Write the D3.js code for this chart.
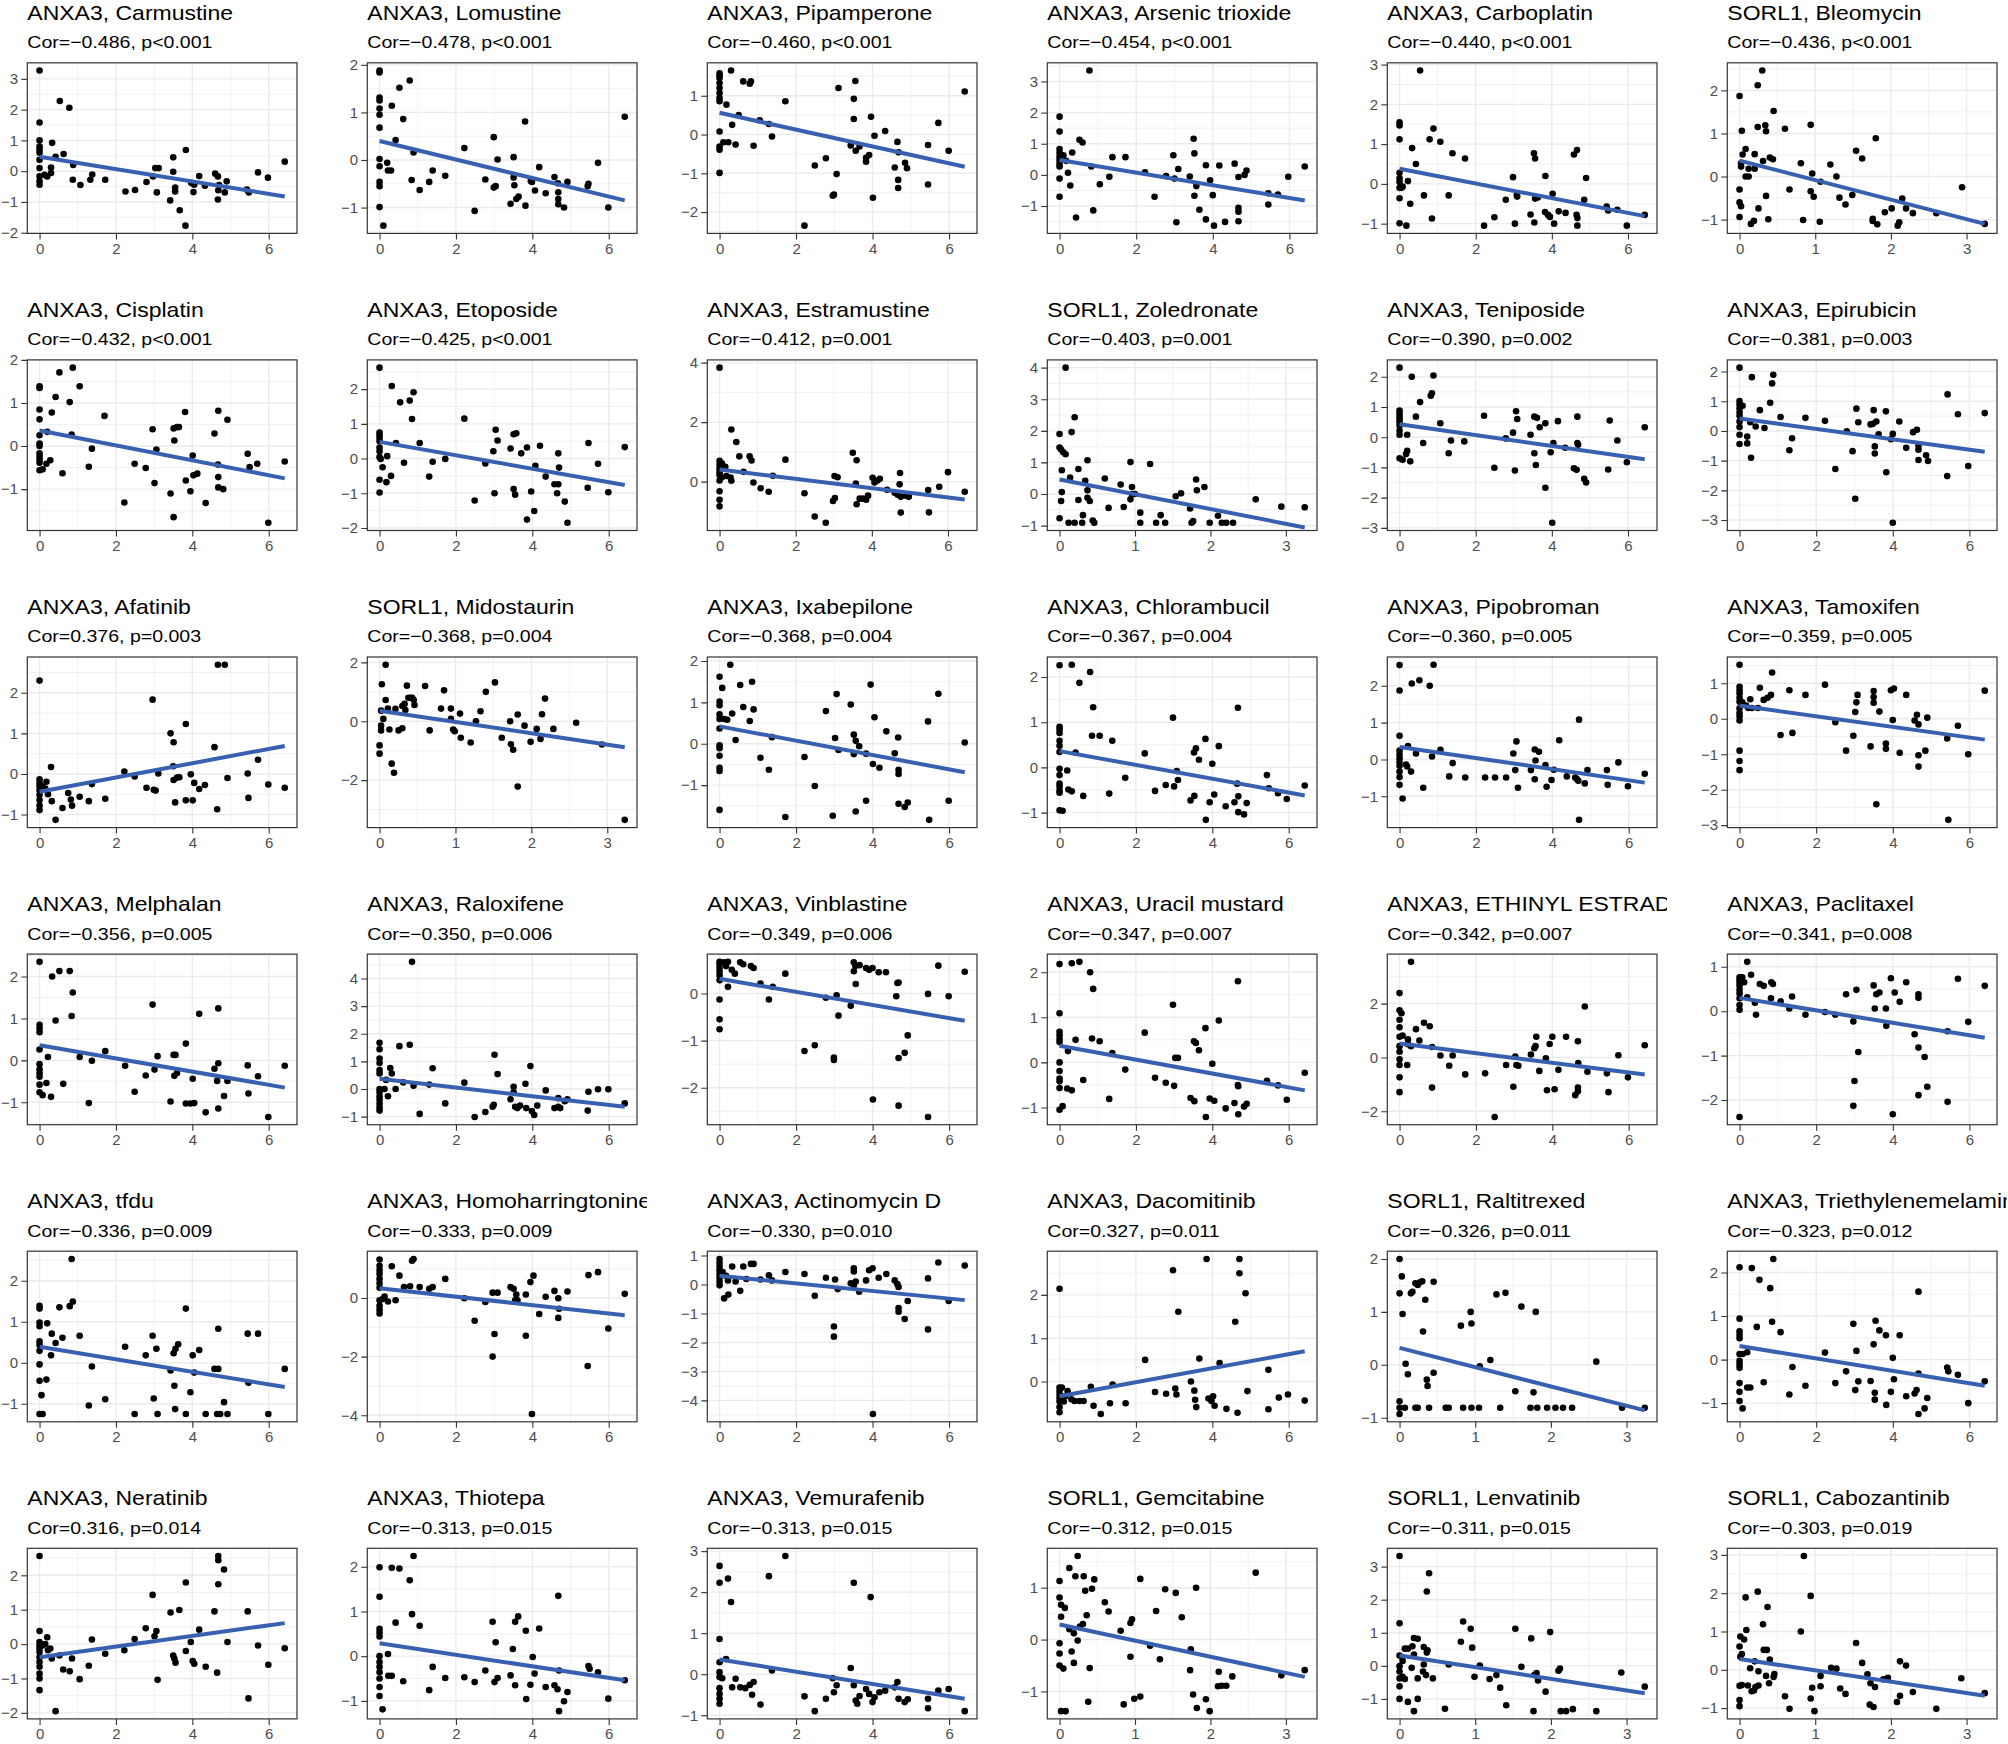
<!DOCTYPE html>
<html><head><meta charset="utf-8">
<script src="https://cdn.jsdelivr.net/npm/d3@7"></script>
<style>html,body{margin:0;padding:0;background:#fff;}</style>
</head><body>
<script>
const genes=["ANXA3","ANXA3","ANXA3","ANXA3","ANXA3","SORL1","ANXA3","ANXA3","ANXA3","SORL1","ANXA3","ANXA3","ANXA3","SORL1","ANXA3","ANXA3","ANXA3","ANXA3","ANXA3","ANXA3","ANXA3","ANXA3","ANXA3","ANXA3","ANXA3","ANXA3","ANXA3","ANXA3","SORL1","ANXA3","ANXA3","ANXA3","ANXA3","SORL1","SORL1","SORL1"];
const drugs=["Carmustine","Lomustine","Pipamperone","Arsenic trioxide","Carboplatin","Bleomycin","Cisplatin","Etoposide","Estramustine","Zoledronate","Teniposide","Epirubicin","Afatinib","Midostaurin","Ixabepilone","Chlorambucil","Pipobroman","Tamoxifen","Melphalan","Raloxifene","Vinblastine","Uracil mustard","ETHINYL ESTRADIOL","Paclitaxel","tfdu","Homoharringtonine","Actinomycin D","Dacomitinib","Raltitrexed","Triethylenemelamine","Neratinib","Thiotepa","Vemurafenib","Gemcitabine","Lenvatinib","Cabozantinib"];
const cors=[-0.486,-0.478,-0.460,-0.454,-0.440,-0.436,-0.432,-0.425,-0.412,-0.403,-0.390,-0.381,0.376,-0.368,-0.368,-0.367,-0.360,-0.359,-0.356,-0.350,-0.349,-0.347,-0.342,-0.341,-0.336,-0.333,-0.330,0.327,-0.326,-0.323,0.316,-0.313,-0.313,-0.312,-0.311,-0.303];
const pvals=["<0.001","<0.001","<0.001","<0.001","<0.001","<0.001","<0.001","<0.001","=0.001","=0.001","=0.002","=0.003","=0.003","=0.004","=0.004","=0.004","=0.005","=0.005","=0.005","=0.006","=0.006","=0.007","=0.007","=0.008","=0.009","=0.009","=0.010","=0.011","=0.011","=0.012","=0.014","=0.015","=0.015","=0.015","=0.015","=0.019"];
// fitted linear-regression values (y at smallest and largest x)
const fitStart=[0.47,0.40,0.56,0.48,0.38,0.37,0.36,0.48,0.41,0.46,0.43,0.42,-0.44,0.36,0.42,0.36,0.34,0.37,0.36,0.37,0.31,0.37,0.52,0.30,0.39,0.33,0.30,-0.34,0.32,0.31,-0.38,0.29,0.36,0.29,0.31,0.28];
const fitEnd=[-0.82,-0.85,-0.83,-0.82,-0.81,-1.10,-0.75,-0.76,-0.60,-1.06,-0.73,-0.70,0.69,-0.88,-0.69,-0.62,-0.63,-0.59,-0.65,-0.64,-0.58,-0.62,-0.63,-0.60,-0.59,-0.59,-0.54,0.70,-0.86,-0.60,0.61,-0.54,-0.60,-0.72,-0.83,-0.68];
const xTicksByGene={ANXA3:[0,2,4,6],SORL1:[0,1,2,3]};
const yTicks=[[-2,-1,0,1,2,3],[-1,0,1,2],[-2,-1,0,1],[-1,0,1,2,3],[-1,0,1,2,3],[-1,0,1,2],
[-1,0,1,2],[-2,-1,0,1,2],[0,2,4],[-1,0,1,2,3,4],[-3,-2,-1,0,1,2],[-3,-2,-1,0,1,2],
[-1,0,1,2],[-2,0,2],[-1,0,1,2],[-1,0,1,2],[-1,0,1,2],[-3,-2,-1,0,1],
[-1,0,1,2],[-1,0,1,2,3,4],[-2,-1,0],[-1,0,1,2],[-2,0,2],[-2,-1,0,1],
[-1,0,1,2],[-4,-2,0],[-4,-3,-2,-1,0,1],[0,1,2],[-1,0,1,2],[-1,0,1,2],
[-2,-1,0,1,2],[-1,0,1,2],[-1,0,1,2,3],[-1,0,1],[-1,0,1,2,3],[-1,0,1,2,3]];

const carmustine=[[0,3.27],[0.53,2.28],[0.78,2.06],[0,1.58],[0,1.0],[0,0.8],[0,0.7],[0,0.6],[0.33,0.92],[0.63,0.56],[0.42,0.47],[0,0.37],[0,0.1],[0.3,0.12],[0,-0.17],[0,-0.33],[0,-0.44],[0.13,-0.12],[0.2,-0.17],[0.3,-0.06],[0.88,0.2],[0.87,-0.28],[1.07,-0.45],[1.33,-0.28],[1.38,-0.11],[1.72,-0.28],[2.25,-0.66],[2.5,-0.61],[2.8,-0.35],[2.97,-0.17],[3.03,0.1],[3.12,0.1],[3.07,-0.69],[3.42,-0.95],[3.5,0.45],[3.5,-0.02],[3.55,-0.53],[3.55,-0.66],[3.67,-1.27],[3.82,-1.77],[3.83,0.69],[3.97,-0.38],[4.05,-0.44],[4.03,-0.68],[4.18,-0.16],[4.33,-0.47],[4.6,-0.08],[4.67,-0.17],[4.68,-0.62],[4.67,-0.92],[4.7,-0.45],[4.85,-0.69],[4.9,-0.33],[5.48,-0.69],[5.43,-0.6],[5.72,-0.04],[5.98,-0.21],[6.42,0.31]];
const lomustine=[[0,1.88],[0,1.84],[0.79,1.67],[0.52,1.52],[0.32,1.14],[0,1.31],[0,1.25],[0,1.08],[0,0.95],[0.62,0.86],[0,0.68],[0.42,0.42],[0.89,0.16],[0,0.02],[0,-0.13],[0.2,-0.06],[0.22,-0.22],[0.3,-0.22],[0,-0.46],[0,-0.55],[0.84,-0.42],[1.05,-0.63],[1.3,-0.46],[1.39,-0.22],[1.72,-0.33],[2.22,0.25],[2.49,-1.07],[2.77,-0.41],[2.99,-0.58],[3.04,-0.55],[2.99,0.48],[3.09,0.01],[3.43,-0.92],[3.51,0.06],[3.51,-0.37],[3.53,-0.53],[3.58,-0.82],[3.64,-0.77],[3.81,0.81],[3.82,-0.96],[3.96,-0.44],[3.99,-0.46],[4.07,-0.64],[4.18,-0.15],[4.35,-0.7],[4.58,-0.36],[4.67,-0.49],[4.68,-0.68],[4.68,-0.82],[4.68,-0.93],[4.83,-1.0],[4.92,-0.46],[5.47,-0.5],[5.45,-0.55],[5.72,-0.06],[5.99,-1.0],[6.42,0.91],[0.1,-1.38],[0,-0.99]];
const pipamperone=[[0,1.58],[0,1.52],[0,1.46],[0,1.33],[0,1.2],[0,1.07],[0,0.94],[0,0.86],[0.3,1.65],[0.62,1.37],[0.82,1.37],[0.79,1.31],[0.18,0.77],[0.5,0.5],[0.33,0.25],[0,0.08],[0,-0.31],[0,-0.39],[0.1,-0.2],[0.23,-0.2],[0.42,-0.26],[0.89,-0.29],[0,-0.99],[1.05,0.37],[1.29,0.27],[1.37,-0.05],[1.72,0.86],[2.22,-2.35],[2.49,-0.8],[2.78,-0.61],[2.96,-1.58],[2.99,-1.55],[3.06,-1.02],[3.11,1.2],[3.43,-0.28],[3.51,0.92],[3.55,1.38],[3.51,0.4],[3.56,-0.42],[3.66,-0.31],[3.83,-0.6],[3.83,-0.7],[3.91,-0.53],[3.96,0.46],[4.01,-1.63],[4.05,-0.03],[4.33,0.09],[4.58,-0.85],[4.65,-0.19],[4.68,-0.46],[4.67,-1.17],[4.67,-1.38],[4.85,-0.73],[4.9,-0.87],[5.45,-0.27],[5.45,-1.29],[5.72,0.3],[5.99,-0.42],[6.41,1.11]];
const arsenic=[[0.78,3.35],[0,1.87],[0,1.39],[0,0.83],[0,0.71],[0,0.59],[0,0.48],[0,0.36],[0,0.27],[0.1,0.63],[0.17,0.45],[0.33,0.72],[0.52,1.13],[0.6,1.04],[0,-0.12],[0.22,0.07],[0.28,-0.34],[0,-0.7],[0.43,-1.37],[0.88,-1.14],[0.83,0.27],[1.05,-0.3],[1.3,-0.06],[1.38,0.57],[1.72,0.57],[2.23,0.08],[2.48,-0.7],[2.78,-0.04],[2.97,0.63],[3.0,-0.12],[3.05,-1.52],[3.1,0.19],[3.4,-0.05],[3.5,1.16],[3.52,0.69],[3.52,-0.67],[3.57,-0.36],[3.65,-1.12],[3.82,0.31],[3.82,-1.43],[3.93,-0.17],[4.0,-0.65],[4.03,-1.63],[4.17,0.3],[4.32,-1.51],[4.57,0.36],[4.67,-0.07],[4.67,-1.06],[4.67,-1.18],[4.67,-1.49],[4.83,0],[4.88,0.14],[5.45,-0.95],[5.45,-0.59],[5.7,-0.63],[5.97,-0.06],[6.4,0.27]];
const carboplatin=[[0.54,2.85],[0,1.55],[0,1.47],[0,1.12],[0.89,1.39],[0.79,1.12],[1.07,1.06],[0.33,0.9],[1.39,0.77],[1.72,0.64],[0.43,0.5],[0,0.28],[0,0.14],[0,0.05],[0,-0.1],[0.05,-0.1],[0.08,-0.07],[0.22,0.07],[0,-0.36],[0.28,-0.5],[0.64,-0.29],[1.29,-0.29],[0.85,-0.87],[0,-0.99],[0.18,-1.05],[2.22,-1.05],[2.49,-0.84],[2.79,-0.4],[2.98,0.17],[3.03,-1.0],[3.08,-0.28],[3.09,-0.32],[3.44,-0.77],[3.53,0.77],[3.56,0.64],[3.56,-0.37],[3.63,-0.34],[3.54,-0.97],[3.82,-0.71],[3.9,-0.78],[3.95,-0.83],[3.83,0.2],[4.02,-0.25],[4.06,-1.0],[4.18,-0.69],[4.36,-0.73],[4.58,0.74],[4.66,0.85],[4.65,-0.78],[4.67,-0.86],[4.67,-1.05],[4.85,-0.4],[4.9,0.15],[5.44,-0.57],[5.48,-0.67],[5.72,-0.65],[5.97,-1.05],[6.44,-0.78]];
const bleomycin=[[0.3,2.46],[0.24,2.12],[0,1.87],[0.45,1.52],[0.03,1.06],[0.24,1.15],[0.34,1.19],[0.35,1.05],[0.6,1.11],[0.94,1.2],[1.8,0.89],[1.54,0.6],[1.62,0.42],[0.08,0.64],[0.04,0.51],[0.2,0.52],[0.4,0.44],[0.44,0.4],[0.02,0.31],[0.02,0.23],[0.31,0.36],[0.12,0.18],[0.2,0.18],[0.08,0],[0.12,0],[0.81,0.31],[1.2,0.28],[0.96,0.07],[1.28,0],[1.07,-0.12],[0,-0.3],[0.66,-0.3],[0.94,-0.34],[0.98,-0.47],[0.35,-0.45],[1.32,-0.49],[1.4,-0.65],[0,-0.6],[0.02,-0.69],[0.25,-0.74],[0,-0.94],[0.38,-0.99],[0.19,-1.03],[0.15,-1.1],[0.84,-1.01],[1.06,-1.05],[1.49,-0.43],[1.76,-0.98],[1.76,-1.03],[1.82,-1.11],[1.92,-0.83],[2.01,-0.74],[2.09,-1.14],[2.11,-1.06],[2.15,-0.51],[2.2,-0.74],[2.29,-0.85],[2.6,-0.85],[2.94,-0.25],[3.24,-1.1]];
const cisplatin=[[0.87,1.82],[0.52,1.71],[0,1.39],[0,1.35],[1.05,1.39],[0.42,1.14],[0.79,1.02],[0,0.85],[0,0.62],[0.32,0.78],[1.7,0.7],[0.84,0.27],[0.2,0.33],[0,0.25],[0,0.06],[0,0],[0,-0.17],[0,-0.25],[0,-0.32],[0,-0.39],[0.28,-0.33],[0.18,-0.41],[0,-0.56],[0.08,-0.54],[0.6,-0.63],[1.29,-0.48],[1.37,-0.06],[2.22,-1.31],[2.49,-0.41],[2.78,-0.51],[2.96,0.39],[3.01,-0.86],[3.06,-0.08],[3.43,-1.1],[3.51,0.41],[3.6,0.44],[3.65,0.44],[3.53,0.13],[3.51,-1.65],[3.81,0.79],[3.83,-0.8],[3.95,-1.05],[4.01,-0.22],[4.03,-0.68],[4.13,-0.64],[4.35,-1.32],[4.58,0.29],[4.68,0.82],[4.67,-0.43],[4.68,-0.72],[4.68,-0.96],[4.81,-1.0],[4.92,0.61],[5.45,-0.18],[5.5,-0.49],[5.7,-0.41],[5.99,-1.78],[6.42,-0.36]];
const etoposide=[[0,2.62],[0.32,2.09],[0.89,1.91],[0.54,1.62],[0.79,1.67],[0.85,1.14],[0,0.75],[0,0.67],[0,0.59],[0,0.5],[0.43,0.45],[1.05,0.45],[0,0.32],[0,0.21],[0,0.04],[0.03,-0.01],[0.2,0.07],[0.64,-0.12],[0.08,-0.25],[1.39,-0.09],[1.72,-0.01],[0.3,-0.5],[1.3,-0.52],[0,-0.61],[0.18,-0.68],[0,-0.98],[2.22,1.15],[2.49,-1.21],[2.77,-0.14],[2.98,0.21],[3.01,-1.0],[3.04,0.83],[3.09,0.52],[3.43,0.29],[3.51,0.7],[3.58,0.73],[3.51,-0.88],[3.55,-1.04],[3.71,0.15],[3.86,0.32],[3.86,-1.76],[3.97,-0.95],[4.05,-1.51],[4.08,-0.21],[4.2,0.37],[4.35,-0.52],[4.58,-0.74],[4.68,-0.74],[4.68,0.15],[4.7,-0.26],[4.65,-1.0],[4.85,-1.24],[4.92,-1.85],[5.47,0.45],[5.45,-0.84],[5.72,-0.15],[5.99,-0.97],[6.42,0.33]];
const estramustine=[[0,3.83],[0.31,1.75],[0.44,1.33],[0.52,0.85],[0.79,0.85],[0.84,0.71],[1.73,0.74],[0,0.7],[0,0.57],[0,0.44],[0,0.32],[0.06,0.62],[0.15,0.5],[0,0.22],[0.06,0.15],[0.18,0.19],[0.29,0.14],[0.31,0.03],[0.63,0.33],[0,0.04],[0,-0.32],[0,-0.61],[0,-0.83],[0.89,-0.03],[1.08,-0.22],[1.29,-0.34],[1.4,0.2],[2.23,-0.39],[2.5,-1.17],[2.79,-1.38],[2.98,-0.65],[3.03,-0.55],[3.02,0.19],[3.1,0.15],[3.5,0.97],[3.6,0.72],[3.58,-0.06],[3.6,-0.76],[3.68,-0.57],[3.77,-0.57],[3.85,-0.61],[3.9,-0.47],[4.02,0.13],[4.07,-0.03],[4.15,0.04],[4.21,0.1],[4.4,-0.27],[4.6,-0.37],[4.68,-0.44],[4.74,0.29],[4.76,-1.04],[4.73,-0.09],[4.76,-0.51],[4.9,-0.47],[4.97,-0.51],[5.48,-0.28],[5.5,-1.03],[5.77,-0.17],[6.0,0.32],[6.44,-0.34]];
const zoledronate=[[0.08,4.0],[0.2,2.43],[0.16,1.96],[0,1.9],[0,1.47],[0.02,1.41],[0.05,1.32],[0.08,1.26],[0.37,1.07],[0.94,1.01],[1.2,0.95],[0.03,0.75],[0.25,0.79],[0.14,0.52],[0.6,0.49],[0.34,0.42],[0.81,0.3],[0.96,0.22],[1.81,0.46],[1.82,0.12],[1.92,0.22],[0.03,0.06],[0.37,0.12],[0.96,0],[1.0,0],[1.54,-0.07],[1.61,0.02],[0.37,-0.12],[0.4,-0.22],[0.02,-0.22],[0.25,-0.19],[0.65,-0.44],[0.85,-0.41],[0.94,-0.17],[1.07,-0.59],[1.34,-0.67],[1.73,-0.46],[0.31,-0.67],[0,-0.77],[0.12,-0.91],[0.2,-0.91],[0.3,-0.91],[0.44,-0.84],[0.46,-0.91],[1.07,-0.91],[1.28,-0.91],[1.4,-0.91],[1.75,-0.91],[1.77,-0.86],[1.99,-0.91],[2.1,-0.69],[2.15,-0.91],[2.21,-0.91],[2.3,-0.91],[2.6,-0.17],[2.94,-0.4],[3.25,-0.42]];
const teniposide=[[0,2.3],[0.32,2.0],[0.89,2.04],[0.54,1.16],[0.82,1.37],[0.85,1.45],[0,0.88],[0,0.78],[0,0.68],[0,0.59],[0,0.49],[0,0.38],[0.43,0.68],[1.07,0.46],[0,0.21],[0,0.08],[0.2,0.08],[0.62,-0.19],[1.35,-0.11],[1.7,-0.14],[0.2,-0.45],[0.17,-0.56],[0,-0.7],[0.08,-0.75],[0.28,-0.8],[1.29,-0.53],[2.22,0.71],[2.49,-1.01],[2.79,-0.04],[2.98,0.15],[3.03,-1.1],[3.06,0.86],[3.09,0.6],[3.44,0.08],[3.54,0.68],[3.61,0.64],[3.54,-0.53],[3.58,-0.92],[3.68,0.33],[3.83,0.46],[3.83,-1.67],[3.97,-0.5],[4.04,-0.19],[4.01,-2.83],[4.16,0.53],[4.35,-0.35],[4.67,0.68],[4.67,-0.19],[4.69,-0.25],[4.58,-1.03],[4.65,-1.08],[4.85,-1.38],[4.9,-1.5],[5.52,0.55],[5.48,-1.07],[5.72,-0.11],[5.97,-0.83],[6.44,0.33]];
const epirubicin=[[0,2.13],[0.32,1.81],[0.88,1.89],[0.85,1.6],[0.8,0.95],[0,1.01],[0,0.89],[0,0.76],[0,0.63],[0,0.51],[0,0.32],[0,0.13],[0,-0.13],[0,-0.44],[0.08,0.85],[0.28,0.29],[0.53,0.7],[0.42,0.15],[0.65,0.1],[1.07,0.47],[0.2,-0.19],[0.2,-0.42],[0.3,-0.9],[1.37,-0.25],[1.3,-0.65],[1.72,0.44],[2.23,0.34],[2.5,-1.28],[2.8,-0.01],[2.95,-0.68],[3.02,-2.28],[3.05,0.75],[3.1,0.29],[3.42,0.22],[3.48,0.24],[3.5,0.7],[3.53,-0.52],[3.53,-0.76],[3.57,0.32],[3.63,-0.11],[3.82,0.66],[3.83,-1.39],[3.95,-0.28],[4.0,-0.1],[4.0,-3.09],[4.17,0.32],[4.35,-0.57],[4.53,-0.04],[4.63,0.04],[4.67,-0.63],[4.67,-0.49],[4.67,-0.98],[4.87,-0.82],[4.92,-1.01],[5.43,1.23],[5.42,-1.52],[5.7,0.56],[5.97,-1.18],[6.4,0.6]];
const afatinib=[[0,2.3],[0,-0.13],[0,-0.22],[0,-0.31],[0,-0.41],[0,-0.52],[0,-0.64],[0,-0.78],[0,-0.89],[0.08,-0.31],[0.15,-0.36],[0.18,-0.19],[0.3,0.17],[0.32,-0.67],[0.42,-1.13],[0.22,-0.5],[0.6,-0.84],[0.75,-0.47],[0.82,-0.63],[0.85,-0.78],[1.05,-0.56],[1.29,-0.67],[1.37,-0.25],[1.72,-0.61],[2.22,0.06],[2.49,-0.06],[2.8,-0.34],[2.96,1.83],[2.99,-0.39],[3.04,-0.41],[3.11,0.01],[3.43,1.0],[3.51,0.78],[3.5,0.19],[3.51,-0.15],[3.6,-0.09],[3.55,-0.7],[3.66,-0.08],[3.83,1.23],[3.83,-0.65],[3.96,-0.01],[4.01,-0.65],[4.05,-0.22],[4.18,-0.37],[4.33,-0.27],[4.58,0.66],[4.67,2.69],[4.85,2.69],[4.65,-0.87],[4.92,-0.1],[5.45,0.01],[5.47,-0.59],[5.72,0.35],[5.99,-0.26],[6.42,-0.34]];
const midostaurin=[[0.08,1.92],[0.03,1.26],[0.36,1.21],[0.6,1.2],[0.85,1.05],[1.52,1.32],[1.4,1.0],[0.08,0.72],[0.3,0.52],[0.33,0.59],[0.38,0.8],[0.41,0.8],[0.43,0.8],[0.45,0.72],[0.21,0.42],[0.11,0.43],[0.34,0.38],[0.46,0.55],[0.02,0.36],[0.81,0.43],[0.94,0.43],[1.33,0.34],[2.18,0.77],[1.82,0.23],[2.14,0.24],[0.05,0.08],[1.06,0.26],[0.94,0.08],[1.27,0],[1.72,0],[2.59,-0.05],[0.02,-0.15],[0.02,-0.31],[0.13,-0.28],[0.25,-0.31],[0.3,-0.24],[0.66,-0.31],[0.97,-0.28],[0.99,-0.34],[1.91,-0.15],[2.07,-0.26],[2.29,-0.26],[1.07,-0.56],[1.2,-0.72],[1.61,-0.56],[1.73,-0.78],[1.76,-0.97],[1.99,-0.7],[2.12,-0.6],[0,-0.82],[0,-1.1],[0.16,-1.44],[0.19,-1.75],[1.82,-2.22],[2.93,-0.79],[3.23,-3.35]];
const ixabepilone=[[0.28,1.91],[0,1.62],[0.07,1.35],[0.54,1.42],[0.85,1.5],[0,1.02],[0,0.93],[0,0.71],[0,0.6],[0,0.37],[0.12,0.6],[0.2,0.58],[0.33,0.73],[0.62,0.89],[0.89,0.83],[0.79,0.55],[0.42,0.09],[1.37,0.16],[0,-0.04],[0,-0.11],[0,-0.29],[0,-0.58],[0,-0.66],[1.07,-0.34],[1.29,-0.63],[0,-1.6],[1.72,-1.77],[2.22,-0.32],[2.49,-1.02],[2.78,0.79],[2.96,-1.74],[3.02,0.14],[3.06,1.2],[3.11,-0.15],[3.43,0.95],[3.51,0.22],[3.56,0.07],[3.51,-0.25],[3.65,-0.06],[3.56,-1.64],[3.83,-1.38],[3.83,-0.24],[3.95,1.43],[4.05,0.64],[4.01,-0.49],[4.18,-0.58],[4.36,0.3],[4.58,-0.23],[4.67,0.15],[4.68,-0.63],[4.68,-0.73],[4.68,-1.45],[4.84,-1.53],[4.92,-1.42],[5.45,0.54],[5.48,-1.84],[5.72,1.21],[5.99,-1.38],[6.41,0.03]];
const chlorambucil=[[0,2.26],[0.32,2.27],[0.8,2.11],[0.52,1.87],[0.88,1.33],[0,0.9],[0,0.84],[0,0.76],[0,0.59],[0,0.48],[0,0.34],[0.85,0.7],[1.05,0.7],[1.38,0.59],[0.42,0.33],[0,-0.03],[0,-0.17],[0,-0.36],[0,-0.43],[0,-0.52],[0,-0.56],[0.2,-0.07],[0.23,-0.49],[0.32,-0.53],[0,-0.95],[0.08,-0.96],[0.62,-0.63],[1.3,-0.58],[1.72,-0.23],[2.23,0.31],[2.5,-0.52],[2.78,-0.39],[2.97,1.1],[3.0,-0.42],[3.07,-0.08],[3.1,-0.28],[3.52,0.33],[3.57,0.42],[3.53,-0.63],[3.43,-0.73],[3.65,0.17],[3.82,0.63],[3.83,-1.16],[3.93,-0.77],[4.0,0.08],[4.05,-0.6],[4.17,0.47],[4.35,-0.86],[4.58,-0.77],[4.67,1.32],[4.65,-0.36],[4.68,-0.64],[4.68,-0.99],[4.83,-1.04],[4.9,-0.79],[5.43,-0.17],[5.48,-0.46],[5.72,-0.57],[5.95,-0.7],[6.42,-0.4]];
const pipobroman=[[0,2.56],[0,1.87],[0.89,2.57],[0.32,2.06],[0.52,2.15],[0.79,2.0],[0,0.64],[0.22,0.36],[0,0.24],[0,0.13],[0,0.03],[0,-0.07],[0,-0.17],[0,-0.33],[0,-0.48],[0,-0.69],[0.17,-0.14],[0.2,-0.19],[0.3,-0.33],[0.43,0.16],[0.85,0.08],[1.07,0.26],[0.62,-0.77],[0.08,-1.06],[1.39,-0.1],[1.3,-0.46],[1.72,-0.49],[2.24,-0.49],[2.5,-0.49],[2.79,-0.49],[2.98,0.16],[3.03,-0.29],[3.06,0.49],[3.1,-0.77],[3.44,-0.29],[3.54,0.27],[3.65,0.21],[3.56,-0.03],[3.54,-0.54],[3.82,-0.15],[3.85,-0.74],[3.98,-0.56],[4.04,-0.28],[4.18,0.52],[4.38,-0.46],[4.6,-0.49],[4.64,-0.53],[4.68,-0.58],[4.7,1.08],[4.7,-1.64],[4.85,-0.65],[4.92,-0.29],[5.43,-0.29],[5.45,-0.69],[5.73,-0.08],[5.98,-0.73],[6.42,-0.39]];
const tamoxifen=[[0,1.52],[0,0.9],[0,0.8],[0,0.71],[0,0.59],[0,0.48],[0,0.29],[0,0.16],[0,0.07],[0,-0.05],[0.07,0.46],[0.17,0.37],[0.23,0.3],[0.32,0.3],[0.28,0.55],[0.48,0.3],[0.53,0.87],[0.63,0.53],[0.73,0.59],[0.82,0.67],[0.85,1.3],[1.07,-0.46],[1.3,0.8],[1.38,-0.4],[1.72,0.67],[2.23,0.96],[2.5,-0.1],[2.78,-0.9],[2.97,-0.48],[3.02,0.19],[3.05,0.46],[3.08,0.67],[3.42,-0.78],[3.5,0.78],[3.5,0.61],[3.5,0.45],[3.57,-2.41],[3.65,0.2],[3.82,-0.7],[3.82,-0.85],[3.95,0.8],[4.03,0.85],[4.0,-0.04],[4.18,-0.96],[4.35,0.67],[4.57,-0.05],[4.63,0.11],[4.67,-0.16],[4.67,-1.03],[4.67,-1.35],[4.85,-0.9],[4.9,0.03],[5.42,-0.56],[5.45,-2.85],[5.7,-0.2],[5.97,-1.0],[6.4,0.79],[0,-0.9],[0,-1.19],[0,-1.45]];
const melphalan=[[0,2.35],[0.33,2.0],[0.52,2.13],[0.79,2.13],[0.87,1.62],[0.84,1.06],[0.42,0.95],[0,0.85],[0,0.76],[0,0.67],[0,0.26],[0.22,0.08],[1.05,0.08],[1.37,-0.01],[1.72,0.22],[0,-0.09],[0,-0.22],[0,-0.31],[0,-0.39],[0,-0.58],[0,-0.76],[0.08,-0.83],[0.18,-0.54],[0.3,-0.87],[0.62,-0.56],[1.29,-1.02],[2.24,-0.13],[2.49,-0.75],[2.78,-0.36],[2.96,1.33],[3.01,-0.22],[3.09,0.1],[3.43,-0.98],[3.51,0.13],[3.56,0.13],[3.53,-0.37],[3.6,-0.3],[3.83,0.4],[3.83,-1.03],[3.95,-1.03],[4.05,-1.02],[4.01,-0.44],[4.18,1.11],[4.35,-1.24],[4.58,-0.2],[4.68,1.24],[4.68,-0.07],[4.65,-0.49],[4.68,-1.15],[4.83,-0.85],[4.92,-0.49],[5.45,-0.12],[5.47,-0.79],[5.72,-0.38],[5.99,-1.35],[6.42,-0.13]];
const raloxifene=[[0.85,4.6],[0,1.67],[0,1.44],[0,1.1],[0,0.94],[0,0.69],[0,0.56],[0.52,1.55],[0.79,1.6],[0.28,0.76],[0.32,0.56],[0.17,0.33],[0.62,0.24],[0.89,0.12],[1.3,0.16],[1.39,0.75],[0,0],[0,-0.12],[0,-0.26],[0,-0.39],[0,-0.53],[0,-0.67],[0,-0.78],[0.13,0],[0.22,-0.26],[0.42,0],[1.05,-0.9],[1.72,-0.52],[2.22,0.23],[2.49,-1.01],[2.77,-0.83],[2.96,-0.64],[2.99,-0.57],[3.01,1.24],[3.09,0.54],[3.43,-0.37],[3.51,0.08],[3.51,-0.12],[3.55,-0.64],[3.61,-0.69],[3.68,-0.6],[3.82,0.19],[3.84,-0.69],[3.95,0.83],[3.99,-0.8],[4.05,-0.94],[4.13,-0.6],[4.35,-0.05],[4.58,-0.69],[4.68,-0.33],[4.68,-0.64],[4.73,-0.69],[4.85,-0.44],[4.92,-0.37],[5.47,-0.1],[5.45,-0.78],[5.72,-0.01],[5.99,-0.01],[6.42,-0.52]];
const vinblastine=[[0,0.67],[0,0.62],[0,0.54],[0,0.46],[0,0.38],[0,0.28],[0.12,0.66],[0.22,0.67],[0.17,0.58],[0.32,0.5],[0.4,0.42],[0.54,0.66],[0.62,0.62],[0.82,0.58],[0.89,0.54],[0.22,0.14],[1.07,0.21],[1.39,0.14],[1.72,0.42],[0,-0.13],[0,-0.55],[0,-0.76],[1.29,-0.13],[2.22,-1.22],[2.49,-1.1],[2.78,-0.09],[2.99,-1.36],[2.99,-1.41],[3.06,-0.04],[3.11,-0.47],[3.43,-0.26],[3.51,0.66],[3.55,0.58],[3.51,0.47],[3.56,0.2],[3.66,0.6],[3.83,0.54],[3.91,0.5],[4.0,0.54],[4.16,0.45],[4.35,0.45],[4.01,-2.25],[4.62,-0.06],[4.68,0.23],[4.65,0.22],[4.68,-1.37],[4.68,-2.38],[4.84,-1.26],[4.92,-0.89],[5.45,-0.01],[5.45,-2.62],[5.72,0.59],[5.99,-0.06],[6.41,0.46]];
const uracil=[[0,2.18],[0.32,2.2],[0.52,2.23],[0.8,2.0],[0.88,1.63],[0,1.09],[0,0.68],[0,0.6],[0,0.52],[0,0.45],[0.42,0.5],[0.85,0.53],[1.05,0.47],[0.22,0.25],[1.38,0.21],[0,0],[0,-0.19],[0,-0.36],[0,-0.42],[0,-0.57],[0.2,-0.58],[0.32,-0.62],[0.62,-0.39],[1.3,-0.81],[0,-1.05],[0.08,-0.97],[1.72,-0.16],[2.23,0.66],[2.5,-0.34],[2.78,-0.45],[2.97,1.28],[3.0,-0.52],[3.03,0.1],[3.1,0.1],[3.52,0.47],[3.57,0.43],[3.43,-0.79],[3.53,-0.86],[3.65,0.27],[3.82,0.76],[3.83,-1.21],[3.93,-0.8],[4.05,-0.85],[4.0,-0.03],[4.17,0.93],[4.35,-1.02],[4.58,-0.9],[4.67,1.8],[4.67,-0.5],[4.68,-0.53],[4.68,-1.15],[4.83,-0.98],[4.9,-0.92],[5.43,-0.41],[5.72,-0.51],[5.95,-0.83],[6.42,-0.23]];
const ethinyl=[[0.3,3.55],[0,2.39],[0,1.75],[0.05,1.64],[0,1.4],[0,1.12],[0,0.77],[0.64,1.29],[0.79,1.16],[0.43,1.05],[0.08,0.81],[0.22,0.67],[0.52,0.63],[0,0.42],[0,0.21],[0,-0.07],[0,-0.28],[0.22,0.49],[0.3,0.42],[0.85,0.39],[0.2,-0.28],[0,-0.74],[0,-1.29],[1.07,0.07],[1.39,0.07],[1.3,-0.31],[0.85,-1.12],[1.72,-0.63],[2.24,-0.59],[2.49,-2.21],[2.79,-0.28],[2.98,-1.09],[3.03,0.03],[3.06,-0.28],[3.11,-0.31],[3.44,0.11],[3.53,0.34],[3.56,0.42],[3.58,0.77],[3.66,-0.5],[3.83,-0.03],[3.86,-1.22],[4.0,0.77],[3.93,0.5],[4.06,-1.18],[4.16,-0.46],[4.36,0.77],[4.6,-1.4],[4.67,-1.12],[4.67,-1.26],[4.67,0.6],[4.68,-0.21],[4.85,1.89],[4.92,-0.53],[5.43,-0.59],[5.47,-1.29],[5.73,0.08],[5.98,-0.74],[6.42,0.45]];
const paclitaxel=[[0.2,1.11],[0,0.76],[0,0.7],[0,0.64],[0,0.57],[0,0.48],[0,0.4],[0,0.29],[0,0.14],[0,0.03],[0.07,0.76],[0.12,0.65],[0.3,0.82],[0.53,0.61],[0.63,0.57],[0.83,0.65],[0.87,0.61],[0.2,0.31],[0.4,0.19],[0.82,0.29],[1.07,0.22],[1.37,0.33],[1.3,0.06],[0.43,-0.08],[1.72,-0.08],[2.23,-0.02],[2.5,-0.08],[2.78,0.38],[2.97,-0.23],[3.05,0.48],[3.1,-0.92],[3.0,-1.57],[2.97,-2.13],[3.5,0.58],[3.57,0.38],[3.53,0.06],[3.65,0.42],[3.82,0.06],[3.83,-0.33],[3.95,0.74],[4.05,0.42],[4.0,-2.32],[4.18,0.21],[4.35,0.65],[4.57,-0.52],[4.67,0.38],[4.67,0.3],[4.67,-0.82],[4.67,-1.89],[4.83,-1.03],[4.9,-1.7],[5.43,-2.04],[5.43,-0.45],[5.7,0.73],[5.97,-0.24],[6.4,0.57],[0,-2.38]];
const tfdu=[[0.84,2.53],[0.87,1.49],[0.79,1.38],[0,1.39],[0,1.32],[0.52,1.35],[0,0.98],[0,0.89],[0.2,0.96],[0,0.52],[0,0.43],[0,0.29],[0.32,0.71],[0.42,0.48],[0.6,0.61],[1.05,0.66],[0.3,0.18],[0,-0.04],[0,-0.44],[0.18,-0.41],[0.05,-0.79],[0,-1.25],[0.08,-1.25],[1.37,-0.09],[1.29,-1.04],[1.72,-0.89],[2.24,0.39],[2.49,-1.25],[2.78,0.18],[2.96,0.66],[2.99,-0.87],[3.06,0.34],[3.09,-1.25],[3.43,-0.19],[3.51,0.23],[3.56,0.34],[3.63,0.45],[3.53,-0.56],[3.55,-1.13],[3.83,1.32],[3.83,-1.25],[3.95,-0.72],[4.01,0.18],[4.05,-0.24],[4.18,0.31],[4.35,-1.25],[4.58,-0.15],[4.68,-0.15],[4.68,0.83],[4.65,-1.25],[4.73,-1.25],[4.83,-0.96],[4.92,-1.25],[5.45,0.71],[5.47,-0.49],[5.72,0.71],[5.99,-1.25],[6.42,-0.15]];
const homoharringtonine=[[0,1.31],[0,1.1],[0,0.95],[0,0.82],[0,0.65],[0,0.5],[0,0.35],[0,-0.08],[0,-0.27],[0,-0.4],[0,-0.53],[0.08,-0.04],[0.13,0.05],[0.22,-0.12],[0.32,1.08],[0.52,0.76],[0.85,1.27],[0.89,1.33],[0.42,-0.08],[0.64,0.37],[0.8,0.4],[1.05,0.37],[1.3,0.31],[1.39,0.37],[1.72,0.65],[2.22,-0.01],[2.49,-0.78],[2.77,-0.14],[2.96,0.18],[3.09,0.18],[3.01,-1.23],[2.96,-2.0],[3.43,0.37],[3.51,0.31],[3.58,0.12],[3.55,-0.08],[3.61,-0.08],[3.83,0.12],[3.83,-1.29],[3.95,0.54],[4.03,0.76],[3.99,-3.96],[4.18,-0.55],[4.35,0.04],[4.58,0.24],[4.68,-0.01],[4.7,-0.37],[4.68,-0.68],[4.92,0.22],[5.47,0.78],[5.72,0.88],[5.45,-2.32],[5.99,-1.04],[6.42,0.14]];
const actinomycin=[[0,0.88],[0,0.75],[0,0.62],[0,0.49],[0,0.36],[0,0.23],[0,0.1],[0,-0.03],[0.08,0.43],[0.17,0.3],[0.22,0.14],[0.33,0.62],[0.62,0.62],[0.82,0.71],[0.89,0.71],[0.12,-0.48],[0.23,-0.35],[0.54,-0.22],[0.42,0.1],[0.7,0.19],[1.07,0.17],[1.29,0.32],[1.37,0.14],[1.72,0.43],[2.22,0.36],[2.49,-0.39],[2.78,0.23],[2.99,-1.45],[2.99,-1.8],[3.02,0.17],[3.09,-0.16],[3.43,0.04],[3.51,0.56],[3.51,0.45],[3.56,0.1],[3.51,-0.03],[3.65,-0.25],[3.83,0.14],[3.91,0.49],[4.0,0.56],[4.01,-4.47],[4.16,0.23],[4.36,0.36],[4.58,0.14],[4.65,0.01],[4.68,-0.09],[4.68,-0.81],[4.68,-0.94],[4.84,-1.19],[4.92,-0.57],[5.45,0.21],[5.45,-1.55],[5.72,0.76],[5.99,-0.57],[6.41,0.65]];
const dacomitinib=[[0,2.14],[0,-0.14],[0,-0.22],[0,-0.3],[0,-0.38],[0,-0.46],[0,-0.59],[0,-0.71],[0.06,-0.14],[0.15,-0.34],[0.21,-0.22],[0.11,-0.46],[0.31,-0.41],[0.39,-0.45],[0.52,-0.45],[0.63,-0.45],[0.82,-0.12],[0.89,-0.56],[1.08,-0.75],[1.32,-0.5],[1.39,-0.07],[1.73,-0.5],[2.24,0.5],[2.5,-0.24],[2.79,-0.28],[2.97,2.57],[3.03,-0.16],[3.06,-0.3],[3.11,1.61],[3.44,0],[3.53,-0.21],[3.55,-0.42],[3.58,-0.59],[3.66,0.53],[3.85,2.83],[3.9,-0.39],[3.98,-0.45],[4.02,-0.34],[4.06,-0.56],[4.19,0.43],[4.37,-0.63],[4.6,1.38],[4.66,-0.72],[4.71,2.83],[4.71,2.5],[4.87,2.04],[4.92,-0.22],[5.47,0.27],[5.47,-0.64],[5.74,-0.37],[5.98,-0.3],[6.42,-0.44]];
const raltitrexed=[[0,2.0],[0.03,1.67],[0,1.35],[0.15,1.35],[0.17,1.38],[0.21,1.54],[0.24,1.51],[0.27,1.56],[0.3,1.58],[0.45,1.57],[0.34,1.23],[0.04,0.96],[0.31,0.63],[0.08,0.02],[0.11,-0.18],[0.36,-0.28],[0.37,-0.4],[0.45,-0.15],[1.28,1.33],[1.4,1.36],[0.94,1.0],[0.81,0.74],[0.95,0.78],[1.61,1.1],[1.8,1.0],[1.2,0.09],[1.06,-0.03],[1.53,-0.5],[1.77,-0.52],[2.6,0.06],[0,-0.69],[0,-0.93],[0,-0.81],[0.07,-0.81],[0.21,-0.81],[0.39,-0.81],[0.61,-0.81],[0.84,-0.81],[0.95,-0.81],[1.05,-0.81],[1.33,-0.81],[1.73,-0.81],[1.82,-0.81],[1.95,-0.81],[2.06,-0.81],[2.16,-0.81],[2.28,-0.81],[2.94,-0.81],[3.24,-0.81],[0.65,-0.81],[0.24,-0.81]];
const triethylenemelamine=[[0,2.12],[0.32,2.1],[0.88,2.31],[0.52,1.83],[0.8,1.64],[0,0.94],[0,0.65],[0,0.57],[0,0.49],[0.45,0.75],[0.85,0.87],[1.07,0.63],[0,0.13],[0,-0.03],[0,-0.11],[0,-0.19],[0.08,0.13],[0.2,0.17],[0,-0.54],[0,-0.74],[0,-0.95],[0.2,-0.64],[0.28,-0.64],[0.63,-0.52],[0.08,-1.12],[1.38,-0.17],[1.3,-0.8],[1.72,-0.6],[2.23,0.16],[2.5,-0.54],[2.78,-0.27],[2.97,0.82],[3.02,-0.7],[3.05,0.2],[3.1,-0.5],[3.42,-0.49],[3.5,0.35],[3.55,0.89],[3.53,-0.76],[3.53,-0.92],[3.65,0.67],[3.82,0.56],[3.83,-1.04],[3.95,-0.74],[4.0,0.04],[4.03,-0.45],[4.18,0.56],[4.35,-0.84],[4.57,-0.78],[4.62,-0.7],[4.67,1.56],[4.67,-0.32],[4.67,-1.25],[4.83,-1.12],[4.9,-0.88],[5.42,-0.18],[5.45,-0.27],[5.7,-0.35],[5.97,-1.0],[6.4,-0.5]];
const neratinib=[[0,2.56],[0,0.38],[0,0.06],[0,-0.04],[0,-0.13],[0,-0.23],[0,-0.38],[0,-0.52],[0,-0.66],[0,-0.86],[0,-1.0],[0,-1.34],[0.08,-0.04],[0.15,0],[0.2,0.2],[0.22,-0.18],[0.28,-0.13],[0.32,-0.42],[0.42,-1.95],[0.52,-0.33],[0.62,-0.74],[0.79,-0.79],[0.85,-0.42],[1.05,-1.02],[1.29,-0.63],[1.37,0.13],[1.72,-0.28],[2.22,-0.18],[2.49,0.15],[2.78,0.46],[2.96,1.43],[3.01,0.23],[3.06,0.38],[3.09,-1.04],[3.43,0.92],[3.5,-0.33],[3.53,-0.42],[3.56,-0.54],[3.66,0.99],[3.83,1.79],[3.83,-0.2],[3.96,0.06],[4.01,-0.49],[4.05,-0.57],[4.18,0.42],[4.35,-0.66],[4.58,0.95],[4.65,-0.83],[4.68,2.56],[4.68,2.44],[4.68,1.74],[4.83,2.17],[4.92,0.06],[5.45,0.95],[5.47,-1.58],[5.72,-0.04],[5.99,-0.6],[6.42,-0.12]];
const thiotepa=[[0,1.99],[0.32,1.98],[0.52,1.96],[0.89,2.24],[0.79,1.7],[0,1.33],[0.85,0.94],[0,0.61],[0,0.53],[0,0.44],[0.42,0.75],[1.05,0.68],[0,0],[0,-0.13],[0,-0.24],[0,-0.36],[0,-0.5],[0,-0.69],[0,-0.89],[0.08,-1.19],[0.22,0.05],[0.23,-0.44],[0.32,-0.44],[0.62,-0.56],[1.3,-0.76],[1.39,-0.24],[1.72,-0.49],[2.22,-0.47],[2.49,-0.58],[2.77,-0.32],[2.96,0.77],[3.01,-0.58],[3.09,-0.49],[3.04,0.31],[3.43,-0.43],[3.49,0.16],[3.55,0.77],[3.63,0.89],[3.55,-0.65],[3.83,0.57],[3.84,-0.96],[3.95,-0.64],[4.01,-0.02],[4.06,-0.39],[4.18,0.62],[4.35,-0.69],[4.58,-0.65],[4.66,-0.74],[4.68,1.35],[4.7,-0.32],[4.7,-1.23],[4.83,-1.01],[4.92,-0.8],[5.47,-0.22],[5.5,-0.28],[5.72,-0.36],[5.99,-0.95],[6.42,-0.54]];
const vemurafenib=[[0,2.64],[0,2.23],[0.22,2.33],[0.3,1.76],[1.72,2.88],[1.29,2.39],[3.51,2.23],[3.95,1.88],[0,0.86],[0,0.29],[0,0.05],[0,-0.07],[0,-0.34],[0,-0.48],[0,-0.6],[0,-0.72],[0.17,0.37],[0.07,-0.1],[0.42,-0.11],[0.33,-0.32],[0.54,-0.32],[0.67,-0.34],[0.79,-0.26],[0.85,-0.5],[0.89,-0.19],[1.07,-0.74],[1.37,0.09],[2.22,-0.54],[2.49,-0.9],[2.78,-0.6],[2.96,-0.1],[3.06,-0.27],[2.99,-0.44],[3.43,0.15],[3.51,-0.27],[3.6,-0.72],[3.56,-0.64],[3.66,-0.53],[3.83,-0.36],[3.91,-0.48],[4.0,-0.68],[4.05,-0.56],[4.18,-0.44],[4.33,-0.4],[4.58,-0.32],[4.65,-0.19],[4.68,-0.6],[4.84,-0.68],[4.92,-0.61],[5.45,-0.6],[5.45,-0.83],[5.72,-0.4],[5.99,-0.36],[6.41,-0.9]];
const gemcitabine=[[0.24,1.61],[0.13,1.38],[0,1.13],[0.21,1.22],[0.32,1.22],[0.46,1.16],[0.43,0.98],[0.34,0.94],[0,0.81],[0.02,0.67],[0.07,0.61],[0.02,0.44],[0.6,0.72],[0.65,0.54],[1.07,1.17],[1.4,0.97],[1.54,0.9],[1.81,1.0],[2.6,1.29],[1.28,0.55],[1.62,0.43],[0.36,0.47],[0.31,0.3],[0.27,0.25],[0.19,0.12],[0.24,-0.02],[0.13,0.2],[0.96,0.39],[0.94,0.32],[0.81,0.17],[1.2,-0.12],[0,-0.07],[0,-0.27],[0.16,-0.23],[0.94,-0.33],[1.33,-0.38],[1.74,-0.19],[0.19,-0.45],[0,-0.5],[0.05,-0.56],[0.4,-0.55],[1.73,-0.59],[2.11,-0.62],[2.29,-0.71],[2.1,-0.9],[2.15,-0.89],[2.21,-0.89],[1.77,-1.06],[1.94,-1.15],[1.82,-1.32],[1.99,-1.38],[1.07,-1.1],[0.99,-1.14],[0.85,-1.25],[0.38,-1.2],[0.02,-1.38],[0.08,-1.38],[2.94,-0.69],[3.25,-0.59]];
const lenvatinib=[[0,3.32],[0.39,2.8],[0.36,2.25],[0,1.29],[0.84,1.34],[0.94,1.12],[1.53,1.12],[1.99,1.02],[0.81,0.73],[1.74,0.83],[0.96,0.55],[0.19,0.84],[0.24,0.82],[0.07,0.52],[0.11,0.52],[0.17,0.59],[0.32,0.57],[0.37,0.47],[0.36,0.4],[0,0.31],[0.04,0.15],[0.19,0.34],[0,-0.01],[0,-0.17],[0,-0.38],[0,-0.62],[0.04,-0.33],[0.07,-0.4],[0.16,-0.06],[0.24,-0.38],[0.32,0.04],[0.31,-0.17],[0.35,-0.28],[0.44,-0.38],[0.65,0.04],[1.06,0.01],[0.99,-0.33],[1.19,-0.4],[1.28,-0.28],[1.33,-0.66],[1.61,-0.03],[1.78,-0.28],[1.81,-0.22],[1.83,-0.44],[1.93,-0.78],[2.1,-0.15],[2.12,-0.08],[2.93,-0.2],[3.24,-0.63],[0,-1.0],[0.11,-1.09],[0.24,-1.0],[0.19,-1.37],[0.6,-1.3],[1.41,-1.19],[1.77,-1.37],[2.13,-1.37],[2.2,-1.37],[2.29,-1.31],[2.6,-1.37]];
const cabozantinib=[[0.85,2.97],[0.08,1.89],[0.24,2.04],[0.94,1.93],[0.37,1.64],[0.09,1.04],[0.81,1.0],[0.31,1.19],[1.54,0.7],[0.01,0.87],[0.06,0.79],[0,0.61],[0.32,0.52],[0.36,0.52],[0.03,0.41],[0.01,0.34],[0.4,0.27],[0.2,0.22],[1.62,0.18],[2.12,0.22],[2.2,0.11],[0.14,0.04],[1.21,0.05],[1.28,0.03],[0.25,-0.04],[0.46,-0.11],[0.45,-0.19],[0.35,-0.16],[1.07,-0.16],[1.69,-0.12],[0.39,-0.35],[0,-0.42],[0.03,-0.4],[0.11,-0.41],[0.25,-0.41],[0.21,-0.45],[0.19,-0.54],[0.16,-0.56],[0.96,-0.47],[1.07,-0.43],[1.33,-0.49],[1.4,-0.63],[1.73,-0.35],[1.79,-0.45],[1.9,-0.25],[1.96,-0.21],[2.12,-0.68],[2.08,-0.84],[2.29,-0.58],[2.93,-0.22],[3.24,-0.61],[0,-0.79],[0,-0.95],[0.6,-0.69],[0.66,-1.02],[0.94,-0.75],[0.99,-1.08],[1.72,-0.91],[1.77,-0.97],[2.6,-1.02]];

const panelPoints=[carmustine,lomustine,pipamperone,arsenic,carboplatin,bleomycin,cisplatin,etoposide,estramustine,zoledronate,teniposide,epirubicin,afatinib,midostaurin,ixabepilone,chlorambucil,pipobroman,tamoxifen,melphalan,raloxifene,vinblastine,uracil,ethinyl,paclitaxel,tfdu,homoharringtonine,actinomycin,dacomitinib,raltitrexed,triethylenemelamine,neratinib,thiotepa,vemurafenib,gemcitabine,lenvatinib,cabozantinib];

// ---------- drawing ----------
const W=2008,H=1744,COLW=340,ROWH=297.1,SX=1.15;
const FONT='"Liberation Sans", Arial, Helvetica, sans-serif';
const minus=s=>String(s).replace(/-/g,"\u2212");
const svg=d3.select("body").append("svg").attr("width",W).attr("height",H).attr("font-family",FONT);
svg.append("rect").attr("width",W).attr("height",H).attr("fill","#fff");
const defs=svg.append("defs");

function expand(e){const r=(e[1]-e[0])||1;return [e[0]-0.05*r,e[1]+0.05*r];}
function minorBreaks(t,dom){const s=t[1]-t[0];const out=[];for(let m=t[0]-s;m<=t[t.length-1];m+=s){const v=m+s/2;if(v>=dom[0]&&v<=dom[1])out.push(v);}return out;}
function label(g,x,y,s,size,fill){return g.append("text").attr("transform",`translate(${x},${y}) scale(${SX},1)`).attr("font-size",size).attr("fill",fill).text(s);}

panelPoints.forEach((pts,i)=>{
  const col=i%6,row=Math.floor(i/6);
  const x0=col*COLW,y0=row*ROWH;
  defs.append("clipPath").attr("id","cell"+i).append("rect").attr("x",x0).attr("y",y0).attr("width",307).attr("height",ROWH);
  const g=svg.append("g").attr("clip-path",`url(#cell${i})`);
  const L=x0+27.3,R=x0+297,T=y0+62.8,B=y0+233.4;
  const xd=expand(d3.extent(pts,d=>d[0])),yd=expand(d3.extent(pts,d=>d[1]));
  const xs=d3.scaleLinear().domain(xd).range([L,R]);
  const ys=d3.scaleLinear().domain(yd).range([B,T]);
  const xt=xTicksByGene[genes[i]],yt=yTicks[i];

  label(g,L,y0+19.8,genes[i]+", "+drugs[i],20,"#000");
  label(g,L,y0+48.2,"Cor="+minus(d3.format(".3f")(cors[i]))+", p"+pvals[i],17,"#000");

  g.append("rect").attr("x",L).attr("y",T).attr("width",R-L).attr("height",B-T).attr("fill","#fff");
  const grid=g.append("g");
  grid.selectAll(".mx").data(minorBreaks(xt,xd)).join("line").attr("x1",d=>xs(d)).attr("x2",d=>xs(d)).attr("y1",T).attr("y2",B).attr("stroke","#EBEBEB").attr("stroke-width",0.7);
  grid.selectAll(".my").data(minorBreaks(yt,yd)).join("line").attr("y1",d=>ys(d)).attr("y2",d=>ys(d)).attr("x1",L).attr("x2",R).attr("stroke","#EBEBEB").attr("stroke-width",0.7);
  grid.selectAll(".Mx").data(xt).join("line").attr("x1",d=>xs(d)).attr("x2",d=>xs(d)).attr("y1",T).attr("y2",B).attr("stroke","#EBEBEB").attr("stroke-width",1.4);
  grid.selectAll(".My").data(yt).join("line").attr("y1",d=>ys(d)).attr("y2",d=>ys(d)).attr("x1",L).attr("x2",R).attr("stroke","#EBEBEB").attr("stroke-width",1.4);

  g.append("g").selectAll("circle").data(pts).join("circle").attr("cx",d=>xs(d[0])).attr("cy",d=>ys(d[1])).attr("r",3.3).attr("fill","#000");

  const xe=d3.extent(pts,d=>d[0]);
  g.append("line").attr("x1",xs(xe[0])).attr("y1",ys(fitStart[i])).attr("x2",xs(xe[1])).attr("y2",ys(fitEnd[i])).attr("stroke","#3761B0").attr("stroke-width",4);

  g.append("rect").attr("x",L).attr("y",T).attr("width",R-L).attr("height",B-T).attr("fill","none").attr("stroke","#333").attr("stroke-width",1.2);

  const ax=g.append("g").attr("transform",`translate(0,${B})`).call(d3.axisBottom(xs).tickValues(xt).tickSize(6).tickPadding(3.5).tickFormat(d=>minus(d)));
  const ay=g.append("g").attr("transform",`translate(${L},0)`).call(d3.axisLeft(ys).tickValues(yt).tickSize(6).tickPadding(3.2).tickFormat(d=>minus(d)));
  [ax,ay].forEach(a=>{a.select(".domain").remove();a.attr("font-family",FONT).attr("font-size",15);
    a.selectAll("line").attr("stroke","#333").attr("stroke-width",1.1);
    a.selectAll("text").attr("fill","#4D4D4D");});
});
</script>
</body></html>
